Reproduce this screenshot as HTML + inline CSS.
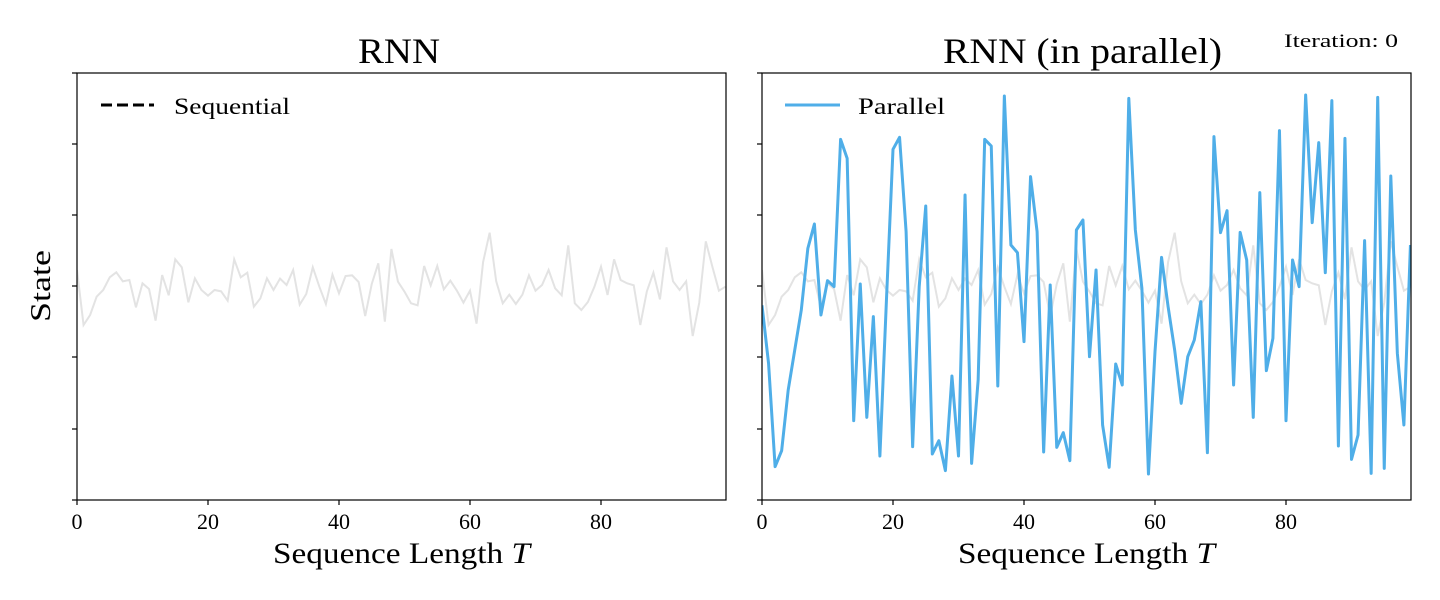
<!DOCTYPE html>
<html><head><style>
html,body{margin:0;padding:0;background:#fff;width:1440px;height:600px;overflow:hidden}
svg{display:block}
text{font-family:"Liberation Serif",serif;fill:#000}
</style></head><body>
<svg width="1440" height="600" viewBox="0 0 1440 600">
<defs>
<clipPath id="cl"><rect x="77" y="73" width="649" height="427"/></clipPath>
<clipPath id="cr"><rect x="762" y="73" width="649" height="427"/></clipPath>
</defs>
<g clip-path="url(#cl)">
<polyline transform="translate(77,220) scale(6.55,0.33333)" vector-effect="non-scaling-stroke" fill="none" stroke="#e3e3e3" stroke-width="2" points="0,150 1,315 2,285 3,230 4,210 5,172 6,157 7,184 8,180 9,262 10,190 11,207 12,302 13,165 14,226 15,118 16,142 17,247 18,175 19,210 20,227 21,210 22,214 23,242 24,118 25,172 26,158 27,260 28,235 29,175 30,210 31,176 32,195 33,150 34,254 35,222 36,142 37,200 38,252 39,164 40,220 41,168 42,166 43,186 44,288 45,192 46,130 47,305 48,87 49,185 50,215 51,250 52,256 53,138 54,196 55,138 56,208 57,182 58,212 59,248 60,212 61,311 62,126 63,38 64,184 65,250 66,224 67,252 68,224 69,166 70,212 71,195 72,150 73,205 74,226 75,76 76,250 77,270 78,246 79,200 80,140 81,225 82,118 83,180 84,190 85,196 86,315 87,214 88,158 89,238 90,82 91,184 92,210 93,184 94,348 95,248 96,64 97,140 98,212 99,200"/>
</g>
<g clip-path="url(#cr)">
<polyline transform="translate(762,220) scale(6.55,0.33333)" vector-effect="non-scaling-stroke" fill="none" stroke="#e3e3e3" stroke-width="2" points="0,150 1,315 2,285 3,230 4,210 5,172 6,157 7,184 8,180 9,262 10,190 11,207 12,302 13,165 14,226 15,118 16,142 17,247 18,175 19,210 20,227 21,210 22,214 23,242 24,118 25,172 26,158 27,260 28,235 29,175 30,210 31,176 32,195 33,150 34,254 35,222 36,142 37,200 38,252 39,164 40,220 41,168 42,166 43,186 44,288 45,192 46,130 47,305 48,87 49,185 50,215 51,250 52,256 53,138 54,196 55,138 56,208 57,182 58,212 59,248 60,212 61,311 62,126 63,38 64,184 65,250 66,224 67,252 68,224 69,166 70,212 71,195 72,150 73,205 74,226 75,76 76,250 77,270 78,246 79,200 80,140 81,225 82,118 83,180 84,190 85,196 86,315 87,214 88,158 89,238 90,82 91,184 92,210 93,184 94,348 95,248 96,64 97,140 98,212 99,200"/>
<polyline transform="translate(762,80) scale(6.55,0.33333)" vector-effect="non-scaling-stroke" fill="none" stroke="#4faee8" stroke-width="3" stroke-linejoin="round" points="0,676 1,850 2,1160 3,1112 4,930 5,810 6,690 7,505 8,432 9,705 10,602 11,620 12,178 13,235 14,1022 15,612 16,1012 17,710 18,1128 19,660 20,208 21,172 22,455 23,1100 24,620 25,378 26,1122 27,1082 28,1172 29,888 30,1128 31,345 32,1150 33,900 34,178 35,198 36,918 37,48 38,495 39,518 40,785 41,290 42,455 43,1116 44,615 45,1102 46,1058 47,1142 48,450 49,420 50,830 51,570 52,1035 53,1162 54,852 55,915 56,55 57,450 58,625 59,1182 60,815 61,532 62,680 63,810 64,970 65,830 66,780 67,665 68,1118 69,170 70,458 71,392 72,915 73,457 74,540 75,1012 76,338 77,872 78,775 79,152 80,1022 81,540 82,620 83,45 84,428 85,188 86,578 87,62 88,1098 89,175 90,1138 91,1065 92,482 93,1180 94,52 95,1165 96,288 97,820 98,1035 99,495"/>
</g>
<rect x="77" y="73" width="649" height="427" fill="none" stroke="#000" stroke-width="1.2"/>
<rect x="762" y="73" width="649" height="427" fill="none" stroke="#000" stroke-width="1.2"/>
<g stroke="#000" stroke-width="1.2">
<line x1="72" y1="73" x2="77" y2="73"/><line x1="72" y1="144" x2="77" y2="144"/><line x1="72" y1="215" x2="77" y2="215"/><line x1="72" y1="286" x2="77" y2="286"/><line x1="72" y1="357" x2="77" y2="357"/><line x1="72" y1="429" x2="77" y2="429"/><line x1="72" y1="500" x2="77" y2="500"/>
<line x1="757" y1="73" x2="762" y2="73"/><line x1="757" y1="144" x2="762" y2="144"/><line x1="757" y1="215" x2="762" y2="215"/><line x1="757" y1="286" x2="762" y2="286"/><line x1="757" y1="357" x2="762" y2="357"/><line x1="757" y1="429" x2="762" y2="429"/><line x1="757" y1="500" x2="762" y2="500"/>
<line x1="77" y1="500" x2="77" y2="505"/><line x1="208" y1="500" x2="208" y2="505"/><line x1="339" y1="500" x2="339" y2="505"/><line x1="470" y1="500" x2="470" y2="505"/><line x1="601" y1="500" x2="601" y2="505"/>
<line x1="762" y1="500" x2="762" y2="505"/><line x1="893" y1="500" x2="893" y2="505"/><line x1="1024" y1="500" x2="1024" y2="505"/><line x1="1155" y1="500" x2="1155" y2="505"/><line x1="1286" y1="500" x2="1286" y2="505"/>
</g>
<g font-size="22" text-anchor="middle">
<text x="77" y="529">0</text><text x="208" y="529">20</text><text x="339" y="529">40</text><text x="470" y="529">60</text><text x="601" y="529">80</text>
<text x="762" y="529">0</text><text x="893" y="529">20</text><text x="1024" y="529">40</text><text x="1155" y="529">60</text><text x="1286" y="529">80</text>
</g>
<text x="273" y="563" font-size="30" textLength="257" lengthAdjust="spacingAndGlyphs">Sequence Length <tspan font-style="italic">T</tspan></text>
<text x="958" y="563" font-size="30" textLength="257" lengthAdjust="spacingAndGlyphs">Sequence Length <tspan font-style="italic">T</tspan></text>
<text x="358" y="63" font-size="36" textLength="82" lengthAdjust="spacingAndGlyphs">RNN</text>
<text x="943" y="63" font-size="36" textLength="279" lengthAdjust="spacingAndGlyphs">RNN (in parallel)</text>
<text x="1284" y="47" font-size="19" textLength="114" lengthAdjust="spacingAndGlyphs">Iteration: 0</text>
<text transform="translate(50,322) rotate(-90)" font-size="29" textLength="72" lengthAdjust="spacingAndGlyphs">State</text>
<line x1="101" y1="105" x2="154" y2="105" stroke="#000" stroke-width="3" stroke-dasharray="11,5"/>
<text x="174" y="114" font-size="23" textLength="116" lengthAdjust="spacingAndGlyphs">Sequential</text>
<line x1="785" y1="105" x2="840" y2="105" stroke="#4faee8" stroke-width="3"/>
<text x="858" y="114" font-size="23" textLength="87" lengthAdjust="spacingAndGlyphs">Parallel</text>
</svg>
</body></html>
